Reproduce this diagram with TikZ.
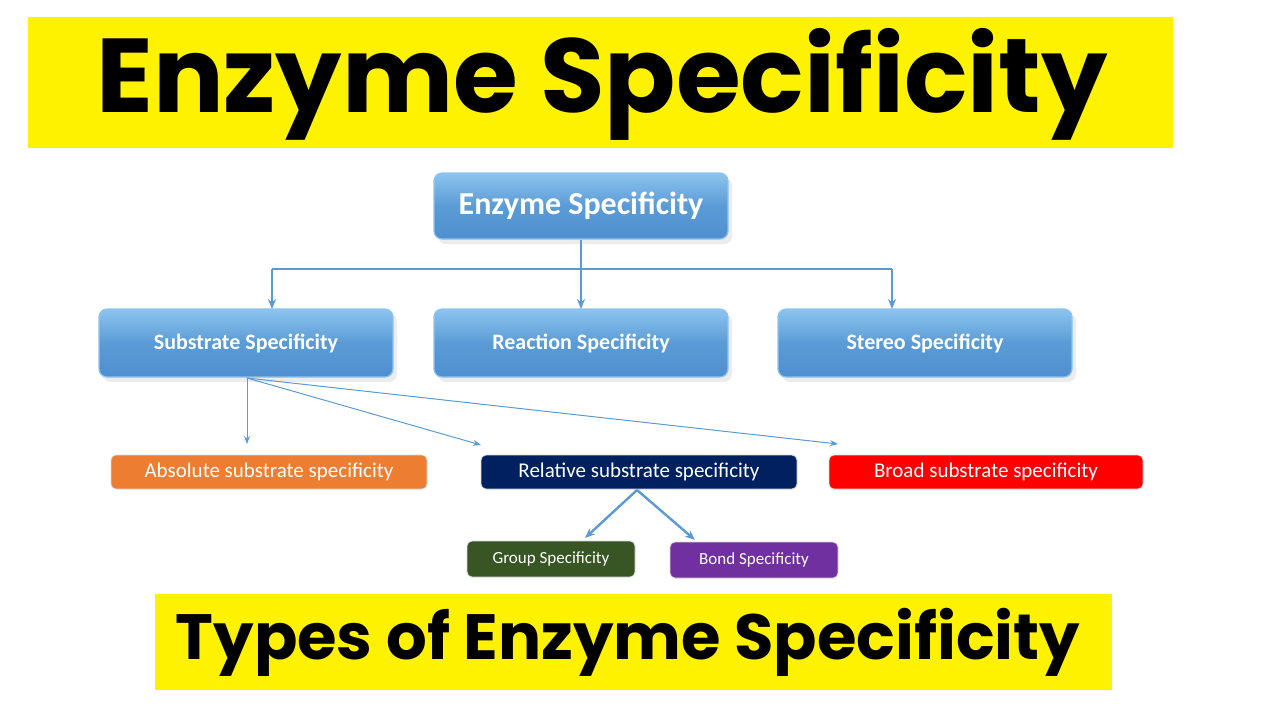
\documentclass[tikz,border=0pt]{standalone}
\usepackage{fontspec}
\setmainfont{Carlito}
\newfontfamily\ban{Poppins}
\usetikzlibrary{shadows,arrows.meta}
\definecolor{bl}{HTML}{5B9BD5}
\definecolor{bltop}{HTML}{8CC4F0}
\definecolor{blbot}{HTML}{4F8FD0}
\definecolor{ln}{HTML}{5B9BD5}
\tikzset{
 bluebox/.style={rounded corners=4pt,top color=bltop,bottom color=blbot,middle color=bl,draw=bltop,line width=0.6pt,
   drop shadow={shadow xshift=2pt,shadow yshift=-2.5pt,opacity=0.15},text=white,font=\bfseries},
 flat/.style={rounded corners=2.5pt,text=white,draw=white!70!gray,line width=0.4pt},
 conn/.style={draw=ln,line width=0.8pt,-{Stealth[length=5pt,width=4pt]}},
 thin/.style={draw=ln,line width=0.5pt,-{Stealth[length=4pt,width=3pt]}}
}
\begin{document}
\begin{tikzpicture}[x=0.5pt,y=-0.5pt]
\useasboundingbox (0,0) rectangle (1280,720);
\fill[white] (0,0) rectangle (1280,720);
\fill[yellow] (28,17) rectangle (1173,148);
\node[font=\ban\bfseries\fontsize{52.5}{52.5}\selectfont] (t1) at (602,84) {Enzyme Specificity};
\fill[yellow] (155,594) rectangle (1112,690);
\node[font=\ban\bfseries\fontsize{32}{32}\selectfont] (t2) at (628,642) {Types of Enzyme Specificity};
\node[bluebox,minimum width=147pt,minimum height=33pt,font=\bfseries\fontsize{16}{16}\selectfont] (es) at (581,206) {Enzyme Specificity};
\node[bluebox,minimum width=147pt,minimum height=34pt,font=\bfseries\fontsize{11}{11}\selectfont] (ss) at (246,343) {Substrate Specificity};
\node[bluebox,minimum width=147pt,minimum height=34pt,font=\bfseries\fontsize{11}{11}\selectfont] (rs) at (581,343) {Reaction Specificity};
\node[bluebox,minimum width=147pt,minimum height=34pt,font=\bfseries\fontsize{11}{11}\selectfont] (st) at (925,343) {Stereo Specificity};
\coordinate (j) at (581,269);
\draw[draw=ln,line width=0.8pt] (es.south) -- (j);
\draw[draw=ln,line width=0.8pt] (272,269) -- (892,269);
\draw[conn] (272,269) -- (272,309);
\draw[conn] (j) -- (581,309);
\draw[conn] (892,269) -- (892,309);
\node[flat,fill={rgb,255:red,237;green,125;blue,49},minimum width=158pt,minimum height=17pt,font=\fontsize{10.5}{10.5}\selectfont] (ab) at (269,472) {Absolute substrate specificity};
\node[flat,fill={rgb,255:red,0;green,32;blue,96},minimum width=158pt,minimum height=17pt,font=\fontsize{10.5}{10.5}\selectfont] (re) at (639,472) {Relative substrate specificity};
\node[flat,fill=red,minimum width=157pt,minimum height=17pt,font=\fontsize{10.5}{10.5}\selectfont] (br) at (986,472) {Broad substrate specificity};
\coordinate (s0) at (247,378);
\draw[thin] (s0) -- (247,444);
\draw[thin] (s0) -- (481,445);
\draw[thin] (s0) -- (838,444);
\node[flat,fill={rgb,255:red,55;green,86;blue,35},minimum width=84pt,minimum height=18pt,font=\fontsize{8.5}{8.5}\selectfont] (gr) at (551,559) {Group Specificity};
\node[flat,fill={rgb,255:red,112;green,48;blue,160},minimum width=84pt,minimum height=18pt,font=\fontsize{8.5}{8.5}\selectfont] (bo) at (754,560) {Bond Specificity};
\coordinate (r0) at (637,490);
\draw[conn,line width=1.2pt] (r0) -- (585,538);
\draw[conn,line width=1.2pt] (r0) -- (695,540);
\end{tikzpicture}
\end{document}
